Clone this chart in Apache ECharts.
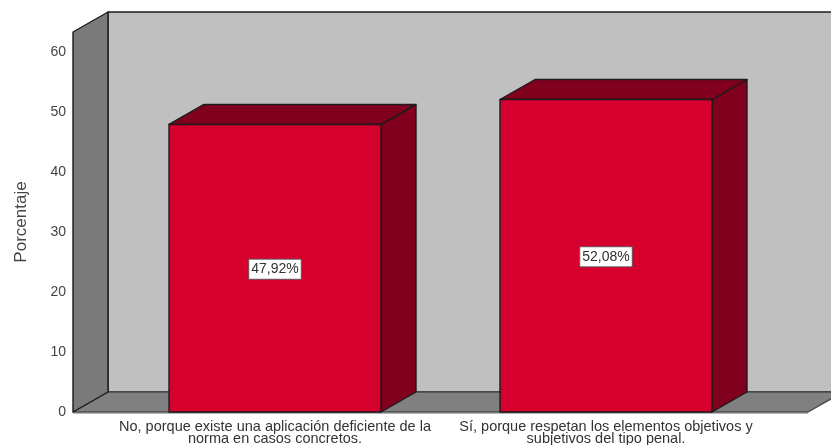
<!DOCTYPE html>
<html><head><meta charset="utf-8">
<style>html,body{margin:0;padding:0;background:#fff}#c{width:831px;height:445px}</style>
<script src="https://cdn.jsdelivr.net/npm/echarts@6/dist/echarts.min.js"></script>
</head><body><div id="c"></div>
<script>
const categories = ['No, porque existe una aplicación deficiente de la\nnorma en casos concretos.', 'Sí, porque respetan los elementos objetivos y\nsubjetivos del tipo penal.'];
const values = [47.92, 52.08];
const dataLabels = ['47,92%', '52,08%'];
const axisTitle = 'Porcentaje';

const DX = 35, DY = -20, LEFT_GAP = 36.5, RIGHT_GAP = 36.5, BAR_W = 212;
const line = '#1c1c1c';
const font = '"Liberation Sans", Arial, sans-serif';
const chart = echarts.init(document.getElementById('c'), null, {renderer: 'canvas'});

function poly(points, fill, stroke) {
  return {type: 'polygon', shape: {points}, style: {fill, stroke: stroke || line, lineWidth: 1.4, lineJoin: 'round'}};
}
function renderWalls(params, api) {
  const cs = params.coordSys;
  const x0 = cs.x - LEFT_GAP, x1 = cs.x + cs.width + RIGHT_GAP;
  const yb = cs.y + cs.height, yt = cs.y;
  return {type: 'group', children: [
    poly([[x0 + DX, yt + DY], [x1 + DX + 40, yt + DY], [x1 + DX + 40, yb + DY], [x0 + DX, yb + DY]], '#c0c0c0'),
    poly([[x0, yb], [x1, yb], [x1 + DX, yb + DY], [x0 + DX, yb + DY]], '#808080', '#4a4a4a'),
    poly([[x0, yt], [x0 + DX, yt + DY], [x0 + DX, yb + DY], [x0, yb]], '#7a7a7a'),
    {type: 'line', shape: {x1: x0, y1: yb + 1.5, x2: x1, y2: yb + 1.5}, style: {stroke: '#b5b5b5', lineWidth: 1}}
  ]};
}
function renderBar(params, api) {
  const c = api.value(0), v = api.value(1);
  const top = api.coord([c, v]), base = api.coord([c, 0]);
  const l = top[0] - BAR_W / 2, r = top[0] + BAR_W / 2, t = top[1], b = base[1];
  return {type: 'group', children: [
    poly([[r, t], [r + DX, t + DY], [r + DX, b + DY], [r, b]], '#80001e'),
    poly([[l, t], [l + DX, t + DY], [r + DX, t + DY], [r, t]], '#80001e'),
    poly([[l, t], [r, t], [r, b], [l, b]], '#d6002e'),
    {type: 'text', x: top[0], y: (t + b) / 2 + 1, z2: 10, style: {
      text: dataLabels[params.dataIndex], x: 0, y: 0, align: 'center', verticalAlign: 'middle',
      font: '14px ' + font, fill: '#333',
      backgroundColor: '#fff', borderColor: '#666', borderWidth: 1, padding: [3, 2, 2, 2]
    }}
  ]};
}
chart.setOption({
  animation: false,
  grid: {left: 109.5, right: 59.5, top: 32, bottom: 33, outerBoundsMode: 'none'},
  xAxis: {
    type: 'category', data: categories,
    axisLine: {show: false}, axisTick: {show: false},
    axisLabel: {interval: 0, margin: 9, lineHeight: 12, color: '#333', fontSize: 14.5, fontFamily: font, hideOverlap: false, width: 400, overflow: 'none'}
  },
  yAxis: {
    type: 'value', min: 0, max: 63.33, interval: 10, offset: 36.5,
    name: axisTitle, nameLocation: 'middle', nameGap: 43, nameRotate: 90,
    nameTextStyle: {color: '#444', fontSize: 17, fontFamily: font},
    axisLine: {show: false}, axisTick: {show: false}, splitLine: {show: false},
    axisLabel: {margin: 7, color: '#444', fontSize: 14, fontFamily: font, showMaxLabel: false}
  },
  series: [
    {type: 'custom', renderItem: renderWalls, data: [[0, 0]], silent: true, z: 1, clip: false},
    {type: 'custom', renderItem: renderBar, data: values.map((v, i) => [i, v]), encode: {x: 0, y: 1}, z: 2, clip: false}
  ]
});
</script></body></html>
